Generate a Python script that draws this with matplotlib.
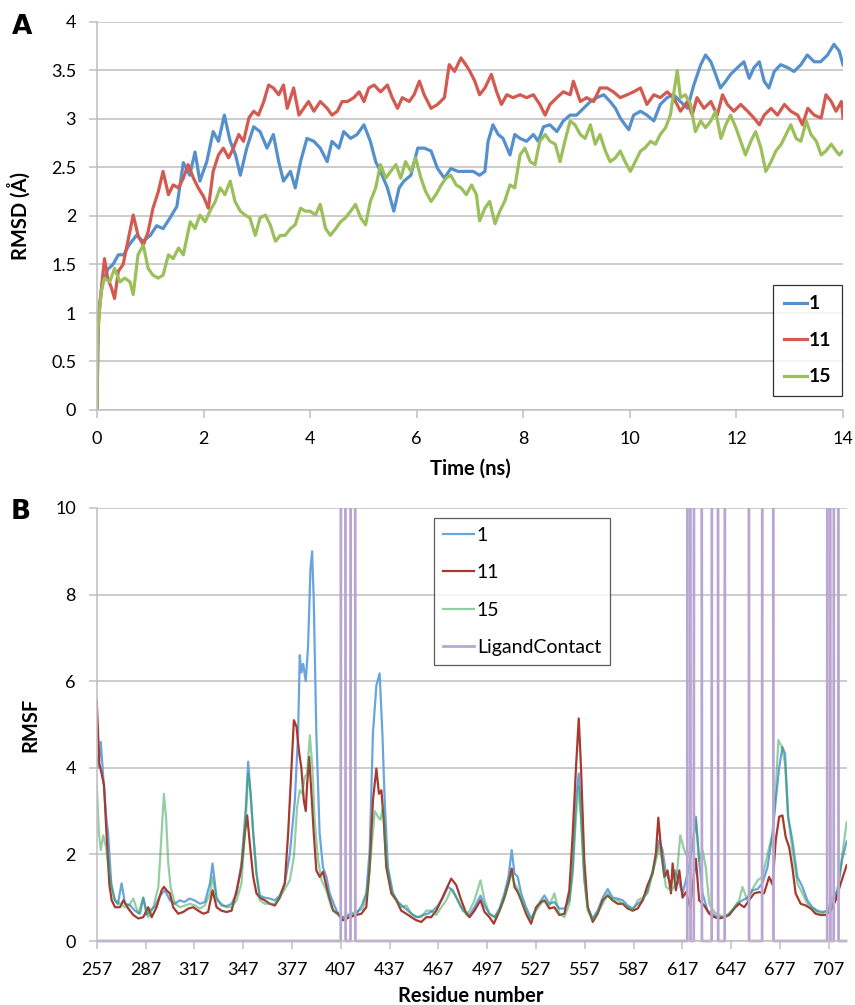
import numpy as np
import matplotlib
matplotlib.use("Agg")
import matplotlib.pyplot as plt
from matplotlib.transforms import Bbox, TransformedBbox

plt.rcParams['font.family'] = ['Lato', 'DejaVu Sans']

# ---------------- panel A : RMSD vs time (ns, Angstrom) ----------------
rmsd_1 = [(0, 0), (0.02, 0.95), (0.1, 1.3), (0.2, 1.45), (0.3, 1.5), (0.4, 1.6), (0.5, 1.6),
          (0.6, 1.7), (0.74, 1.8), (0.86, 1.74), (1.0, 1.8), (1.12, 1.9), (1.24, 1.87), (1.37, 1.98),
          (1.5, 2.1), (1.62, 2.55), (1.74, 2.42), (1.84, 2.66), (1.93, 2.36), (2.06, 2.56), (2.18, 2.87),
          (2.28, 2.77), (2.39, 3.04), (2.5, 2.77), (2.6, 2.63), (2.69, 2.42), (2.81, 2.7), (2.94, 2.92),
          (3.06, 2.87), (3.19, 2.7), (3.31, 2.84), (3.41, 2.56), (3.5, 2.36), (3.63, 2.46), (3.72, 2.29),
          (3.82, 2.56), (3.94, 2.8), (4.07, 2.77), (4.19, 2.7), (4.32, 2.56), (4.41, 2.77), (4.54, 2.7),
          (4.63, 2.87), (4.76, 2.8), (4.88, 2.84), (5.01, 2.94), (5.13, 2.77), (5.23, 2.56), (5.32, 2.46),
          (5.45, 2.29), (5.57, 2.05), (5.67, 2.29), (5.76, 2.36), (5.89, 2.42), (6.02, 2.7), (6.14, 2.7),
          (6.27, 2.67), (6.39, 2.49), (6.52, 2.39), (6.64, 2.49), (6.77, 2.46), (6.89, 2.46), (7.06, 2.46),
          (7.18, 2.42), (7.28, 2.46), (7.34, 2.77), (7.43, 2.94), (7.53, 2.84), (7.62, 2.8), (7.75, 2.63),
          (7.84, 2.84), (7.94, 2.8), (8.06, 2.77), (8.19, 2.84), (8.28, 2.77), (8.38, 2.92), (8.5, 2.94),
          (8.63, 2.87), (8.75, 2.98), (8.88, 3.04), (9.0, 3.04), (9.13, 3.11), (9.26, 3.18), (9.38, 3.22),
          (9.51, 3.25), (9.63, 3.18), (9.73, 3.11), (9.82, 3.01), (9.91, 2.94), (9.98, 2.89), (10.07, 3.04),
          (10.2, 3.08), (10.32, 3.04), (10.45, 2.98), (10.57, 3.15), (10.7, 3.22), (10.82, 3.25),
          (10.95, 3.18), (11.08, 3.11), (11.2, 3.35), (11.33, 3.56), (11.42, 3.66), (11.52, 3.59),
          (11.61, 3.46), (11.7, 3.32), (11.8, 3.39), (11.89, 3.46), (12.02, 3.53), (12.14, 3.59),
          (12.24, 3.42), (12.33, 3.53), (12.43, 3.59), (12.52, 3.39), (12.61, 3.32), (12.71, 3.49),
          (12.83, 3.56), (12.96, 3.53), (13.08, 3.49), (13.21, 3.56), (13.33, 3.66), (13.46, 3.59),
          (13.58, 3.59), (13.71, 3.66), (13.83, 3.77), (13.93, 3.7), (14.0, 3.56)]

rmsd_11 = [(0, 0), (0.02, 0.8), (0.05, 1.08), (0.14, 1.56), (0.2, 1.36), (0.27, 1.26), (0.33, 1.15),
           (0.4, 1.43), (0.49, 1.5), (0.58, 1.74), (0.68, 2.01), (0.77, 1.8), (0.87, 1.7), (0.96, 1.84),
           (1.05, 2.08), (1.15, 2.25), (1.24, 2.46), (1.34, 2.22), (1.43, 2.32), (1.53, 2.29), (1.62, 2.39),
           (1.71, 2.53), (1.81, 2.39), (1.9, 2.29), (2.0, 2.2), (2.09, 2.08), (2.18, 2.46), (2.28, 2.63),
           (2.37, 2.7), (2.47, 2.6), (2.56, 2.7), (2.66, 2.84), (2.75, 2.77), (2.85, 3.01), (2.94, 3.08),
           (3.03, 3.04), (3.13, 3.18), (3.22, 3.35), (3.31, 3.32), (3.41, 3.25), (3.5, 3.35), (3.57, 3.11),
           (3.69, 3.32), (3.79, 3.04), (3.88, 3.11), (3.97, 3.18), (4.07, 3.08), (4.19, 3.18), (4.32, 3.11),
           (4.41, 3.04), (4.51, 3.08), (4.6, 3.18), (4.7, 3.18), (4.82, 3.22), (4.92, 3.28), (5.01, 3.18),
           (5.1, 3.32), (5.2, 3.35), (5.32, 3.28), (5.45, 3.35), (5.54, 3.22), (5.64, 3.11), (5.73, 3.22),
           (5.86, 3.18), (5.95, 3.25), (6.05, 3.39), (6.14, 3.25), (6.27, 3.11), (6.39, 3.15), (6.52, 3.22),
           (6.61, 3.56), (6.71, 3.49), (6.83, 3.63), (6.92, 3.56), (6.99, 3.5), (7.09, 3.39), (7.18, 3.25),
           (7.28, 3.32), (7.4, 3.46), (7.5, 3.28), (7.59, 3.15), (7.69, 3.25), (7.81, 3.22), (7.94, 3.25),
           (8.06, 3.22), (8.19, 3.25), (8.31, 3.15), (8.41, 3.04), (8.5, 3.15), (8.63, 3.22), (8.75, 3.28),
           (8.88, 3.25), (8.94, 3.39), (9.07, 3.18), (9.19, 3.22), (9.32, 3.18), (9.44, 3.32), (9.57, 3.32),
           (9.69, 3.28), (9.82, 3.22), (9.95, 3.25), (10.07, 3.28), (10.2, 3.32), (10.32, 3.15),
           (10.45, 3.25), (10.57, 3.22), (10.7, 3.28), (10.82, 3.22), (10.95, 3.08), (11.08, 3.18),
           (11.17, 3.04), (11.26, 3.22), (11.39, 3.11), (11.52, 3.18), (11.64, 3.04), (11.74, 3.25),
           (11.83, 3.15), (11.95, 3.08), (12.08, 3.15), (12.21, 3.08), (12.33, 3.01), (12.43, 2.94),
           (12.52, 3.04), (12.65, 3.11), (12.77, 3.04), (12.9, 3.15), (13.02, 3.08), (13.15, 3.04),
           (13.24, 2.94), (13.34, 3.11), (13.46, 3.04), (13.59, 3.01), (13.68, 3.25), (13.78, 3.18),
           (13.87, 3.08), (13.97, 3.18), (14.0, 3.01)]

rmsd_15 = [(0, 0), (0.01, 0.8), (0.08, 1.22), (0.14, 1.36), (0.24, 1.32), (0.33, 1.46), (0.43, 1.32),
           (0.52, 1.36), (0.62, 1.32), (0.68, 1.19), (0.77, 1.6), (0.87, 1.7), (0.96, 1.46), (1.05, 1.39),
           (1.15, 1.36), (1.24, 1.39), (1.34, 1.6), (1.43, 1.56), (1.53, 1.67), (1.62, 1.6), (1.75, 1.94),
           (1.84, 1.87), (1.93, 2.01), (2.03, 1.94), (2.12, 2.05), (2.22, 2.15), (2.31, 2.29), (2.4, 2.22),
           (2.5, 2.36), (2.59, 2.15), (2.69, 2.05), (2.78, 2.01), (2.87, 1.98), (2.97, 1.8), (3.06, 1.98),
           (3.16, 2.01), (3.25, 1.91), (3.35, 1.74), (3.44, 1.8), (3.53, 1.8), (3.63, 1.87), (3.72, 1.91),
           (3.82, 2.08), (3.91, 2.05), (4.0, 2.05), (4.1, 2.01), (4.19, 2.12), (4.29, 1.87), (4.38, 1.8),
           (4.48, 1.87), (4.57, 1.94), (4.66, 1.98), (4.76, 2.05), (4.85, 2.12), (4.95, 1.98), (5.04, 1.91),
           (5.13, 2.15), (5.23, 2.29), (5.32, 2.53), (5.42, 2.39), (5.51, 2.46), (5.61, 2.53), (5.7, 2.39),
           (5.79, 2.56), (5.89, 2.46), (5.98, 2.6), (6.08, 2.39), (6.17, 2.25), (6.27, 2.15), (6.36, 2.22),
           (6.46, 2.32), (6.55, 2.39), (6.64, 2.42), (6.74, 2.32), (6.83, 2.29), (6.93, 2.22), (7.03, 2.32),
           (7.12, 2.22), (7.18, 1.95), (7.28, 2.08), (7.37, 2.15), (7.47, 1.92), (7.56, 2.05), (7.65, 2.15),
           (7.75, 2.32), (7.84, 2.29), (7.94, 2.63), (8.03, 2.7), (8.13, 2.56), (8.22, 2.53), (8.31, 2.77),
           (8.41, 2.84), (8.5, 2.77), (8.6, 2.74), (8.69, 2.56), (8.78, 2.77), (8.88, 2.98), (8.97, 2.94),
           (9.07, 2.84), (9.16, 2.8), (9.26, 2.94), (9.35, 2.74), (9.44, 2.84), (9.54, 2.67), (9.63, 2.56),
           (9.73, 2.6), (9.82, 2.67), (9.91, 2.56), (10.01, 2.46), (10.1, 2.56), (10.2, 2.67), (10.28, 2.7),
           (10.39, 2.77), (10.48, 2.74), (10.57, 2.84), (10.67, 2.91), (10.76, 3.04), (10.86, 3.39),
           (10.89, 3.5), (10.95, 3.22), (11.04, 3.25), (11.14, 3.15), (11.23, 2.87), (11.33, 2.98),
           (11.42, 2.91), (11.52, 2.98), (11.61, 3.08), (11.71, 2.8), (11.8, 2.94), (11.89, 3.04),
           (11.99, 2.91), (12.08, 2.77), (12.17, 2.63), (12.27, 2.77), (12.36, 2.87), (12.46, 2.7),
           (12.55, 2.46), (12.65, 2.56), (12.74, 2.67), (12.84, 2.74), (12.93, 2.84), (13.02, 2.94),
           (13.12, 2.8), (13.21, 2.77), (13.31, 2.98), (13.4, 2.84), (13.5, 2.77), (13.59, 2.63),
           (13.68, 2.67), (13.78, 2.74), (13.87, 2.67), (13.93, 2.63), (14.0, 2.67)]

# ---------------- panel B : RMSF per residue ----------------
rmsf_1 = [(257, 4.25), (258, 4.0), (259.5, 4.6), (261, 3.8), (263, 2.8), (264, 2.5), (266, 1.3), (268, 0.95),
          (270, 0.85), (272.3, 1.33), (274.4, 0.86), (277.5, 0.82), (280.5, 0.7), (283.6, 0.63), (285.6, 1.0),
          (287.7, 0.6), (289.7, 0.7), (292.8, 0.8), (295.9, 1.05), (299, 1.17), (302, 0.94), (305, 0.86),
          (308, 0.94), (311, 0.9), (314, 0.98), (317, 0.94), (320.4, 0.86), (323.5, 0.9), (326.6, 1.33),
          (328.2, 1.79), (330.7, 1.0), (333.7, 0.82), (336.8, 0.8), (339.9, 0.86), (343, 1.1), (346, 1.8),
          (348.7, 3.1), (350.1, 4.14), (351.7, 3.33), (353.2, 2.5), (355.2, 1.56), (357.3, 1.05), (360.3, 1.0),
          (363.4, 0.98), (366.5, 0.94), (369.5, 1.05), (372.6, 1.33), (375.7, 2.0), (378.8, 3.25), (380.8, 4.8),
          (381.8, 6.6), (382.8, 6.2), (383.9, 6.4), (385.5, 6.0), (386.9, 6.8), (388.4, 8.6), (389.4, 9.0),
          (390.4, 7.9), (392, 4.8), (394, 2.5), (396.1, 1.7), (398.2, 1.48), (400.2, 1.1), (403.3, 0.8),
          (406.4, 0.55), (409.4, 0.55), (412.5, 0.6), (416.6, 0.63), (419.7, 0.8), (422.7, 1.1), (424.8, 2.1),
          (426.8, 4.8), (428.9, 5.9), (430.9, 6.18), (432.6, 4.8), (434, 3.25), (436, 1.7), (439.1, 1.1),
          (442.2, 0.9), (445.3, 0.8), (448.3, 0.7), (451.4, 0.6), (454.5, 0.55), (457.5, 0.6), (460.6, 0.63),
          (463.7, 0.7), (466.7, 0.82), (469.8, 1.0), (472.9, 1.25), (475.9, 1.17), (479, 0.94), (482.1, 0.7),
          (486.2, 0.6), (489.2, 0.78), (492.9, 1.05), (495.4, 0.82), (498.4, 0.63), (501.5, 0.55),
          (504.6, 0.75), (507.6, 1.1), (510.1, 1.48), (512.1, 2.1), (513.8, 1.56), (515.8, 1.48), (517.9, 1.1),
          (520.9, 0.78), (524, 0.52), (527.1, 0.75), (530.1, 0.94), (532.2, 1.05), (535.3, 0.86), (538.3, 0.9),
          (541.4, 0.75), (544.5, 0.75), (547.5, 0.94), (549.6, 1.7), (551.6, 3.25), (553.3, 3.87),
          (554.7, 2.94), (556.7, 1.48), (558.8, 0.78), (561.9, 0.52), (564.9, 0.7), (568, 1.0), (571.1, 1.2),
          (574.1, 1.0), (577.2, 0.98), (580.3, 0.94), (583.4, 0.82), (586.4, 0.75), (589.5, 0.86),
          (592.6, 0.94), (595.6, 1.17), (598.7, 1.63), (600.7, 2.0), (602.8, 2.33), (604.8, 2.1), (606.9, 1.56),
          (610, 1.33), (612.4, 1.63), (614.5, 1.4), (617.1, 1.1), (620.2, 1.56), (623.3, 2.17), (625.3, 2.87),
          (627.3, 1.86), (629.4, 1.1), (632.5, 0.7), (635.5, 0.63), (638.6, 0.55), (641.7, 0.55), (644.7, 0.6),
          (647.8, 0.7), (650.9, 0.86), (653.9, 0.94), (657, 1.0), (660.1, 1.17), (663.2, 1.2), (666.2, 1.33),
          (669.3, 1.7), (672.4, 2.48), (674.4, 3.25), (676.5, 4.0), (678.5, 4.48), (680.1, 4.33), (682, 2.87),
          (684.6, 2.33), (687.7, 1.48), (690.8, 1.25), (693.8, 0.94), (696.9, 0.78), (700, 0.7), (703, 0.67),
          (706.1, 0.7), (709.2, 0.86), (712.3, 1.17), (715.3, 1.9), (718, 2.3)]

rmsf_11 = [(257, 5.56), (258.6, 4.1), (260, 3.87), (261.5, 3.6), (263, 2.5), (264.8, 1.3), (266.2, 0.94),
           (268.3, 0.78), (271.3, 0.78), (273.4, 0.94), (276.4, 0.75), (279.5, 0.6), (282.6, 0.52),
           (285.6, 0.55), (288.7, 0.78), (290.8, 0.55), (293.8, 0.78), (296.9, 1.17), (298.3, 1.25),
           (300, 1.17), (302, 1.1), (304, 0.78), (307.1, 0.63), (310.2, 0.67), (313.3, 0.75), (316.3, 0.78),
           (319.4, 0.7), (322.5, 0.63), (325.5, 0.67), (328.2, 1.17), (330.7, 0.78), (333.7, 0.7),
           (336.8, 0.67), (339.9, 0.7), (343, 1.17), (346, 1.7), (348.1, 2.5), (349.5, 2.9), (351.1, 2.25),
           (353.2, 1.48), (355.2, 1.1), (357.3, 1.0), (360.3, 0.94), (363.4, 0.86), (366.5, 0.82), (369.5, 1.0),
           (372.6, 1.33), (374.7, 2.5), (376.7, 4.0), (378.2, 5.1), (379.8, 4.95), (381.5, 4.33), (382.8, 4.0),
           (384.3, 3.25), (385.5, 3.0), (386.3, 3.6), (387.6, 4.25), (389, 3.4), (390.4, 2.5), (392, 1.63),
           (394.1, 1.48), (396.1, 1.6), (399.2, 1.1), (402.3, 0.7), (405.4, 0.63), (408.4, 0.48), (412.5, 0.55),
           (416.6, 0.6), (419.7, 0.63), (422.7, 0.78), (424.8, 1.7), (426.8, 3.25), (428.9, 3.98), (430.5, 3.4),
           (432, 3.48), (433.4, 2.8), (435, 1.7), (438.1, 1.1), (441.2, 0.94), (444.2, 0.7), (447.3, 0.63),
           (450.4, 0.55), (453.4, 0.48), (456.5, 0.44), (459.6, 0.55), (462.6, 0.55), (465.7, 0.7),
           (468.8, 0.94), (471.9, 1.2), (474.9, 1.44), (478, 1.29), (481.1, 0.94), (484.2, 0.63), (486.2, 0.55),
           (489.2, 0.7), (492.9, 0.94), (495.4, 0.67), (498.4, 0.55), (501.1, 0.4), (504.6, 0.7), (507.6, 1.0),
           (510.1, 1.33), (512.1, 1.67), (513.8, 1.25), (515.8, 1.13), (517.9, 0.94), (520.9, 0.63), (524, 0.4),
           (527.1, 0.78), (530.1, 0.9), (532.2, 0.94), (535.3, 0.75), (538.3, 0.78), (541.4, 0.6), (544.5, 0.63),
           (547.5, 1.17), (549.6, 2.48), (551.6, 4.0), (553.3, 5.14), (554.7, 4.0), (556.7, 1.86), (558.8, 0.78),
           (561.9, 0.44), (564.9, 0.63), (568, 0.94), (571.1, 1.05), (574.1, 0.94), (577.2, 0.86), (580.3, 0.86),
           (583.4, 0.75), (586.4, 0.7), (589.5, 0.75), (592.6, 0.94), (595.6, 1.29), (598.7, 1.56), (600.7, 2.0),
           (602.2, 2.85), (603.8, 2.17), (605.9, 1.48), (607.9, 1.63), (610, 1.1), (611, 1.79), (613, 1.17),
           (615.1, 1.63), (617.1, 1.0), (619.2, 1.13), (621.8, 0.78), (625.3, 1.9), (627.3, 0.94), (630.4, 0.82),
           (633.5, 0.63), (636.6, 0.55), (639.6, 0.52), (642.7, 0.55), (645.8, 0.6), (648.8, 0.75), (651.9, 0.86),
           (655, 0.78), (658, 0.94), (661.1, 1.1), (664.2, 1.13), (667.2, 1.1), (670.3, 1.48), (672.4, 1.3),
           (674.4, 2.33), (676.5, 2.87), (678.5, 2.9), (680.5, 2.4), (682.6, 2.17), (684.6, 1.7), (686.6, 1.1),
           (689.7, 0.86), (692.8, 0.82), (695.9, 0.75), (698.9, 0.63), (702, 0.6), (705.1, 0.6), (708.2, 0.7),
           (711.2, 0.94), (714.3, 1.33), (718, 1.75)]

rmsf_15 = [(257, 3.64), (258.4, 2.48), (259.5, 2.1), (261, 2.44), (262.7, 2.17), (264.2, 1.7), (266.2, 1.25),
           (268.3, 0.94), (271.3, 0.86), (274.4, 0.78), (277.5, 0.86), (279.5, 0.98), (282.6, 0.63),
           (285.6, 1.0), (288.7, 0.55), (291.8, 0.78), (294.9, 1.25), (296.9, 2.48), (298.3, 3.4),
           (299.6, 2.87), (301, 1.79), (302.4, 1.25), (305.1, 0.86), (308.2, 0.78), (311.2, 0.82), (314.3, 0.86),
           (317.4, 0.82), (320.4, 0.75), (323.5, 0.82), (326.6, 1.1), (328.2, 1.48), (330.7, 0.94), (333.7, 0.86),
           (336.8, 0.78), (339.9, 0.78), (343, 0.94), (346, 1.33), (348.7, 2.87), (350.1, 3.87), (351.7, 3.4),
           (353.2, 2.48), (355.2, 1.56), (357.3, 0.94), (360.3, 0.86), (363.4, 0.86), (366.5, 0.86), (369.5, 1.0),
           (372.6, 1.2), (375.7, 1.4), (378.2, 1.94), (380.2, 3.1), (381.8, 3.48), (383.3, 3.4), (384.9, 3.79),
           (386.3, 3.87), (388, 4.75), (389.6, 4.0), (391, 2.8), (393.1, 1.86), (395.2, 1.4), (398.2, 1.17),
           (401.3, 0.78), (404.3, 0.63), (408.4, 0.55), (412.5, 0.63), (416.6, 0.67), (420.7, 0.75),
           (423.8, 1.25), (425.8, 2.1), (427.9, 3.0), (429.9, 2.87), (431.4, 2.8), (433, 3.1), (435, 1.86),
           (438.1, 1.17), (441.2, 0.94), (444.2, 0.78), (447.3, 0.82), (450.4, 0.63), (453.4, 0.55),
           (456.5, 0.55), (459.6, 0.7), (462.6, 0.7), (465.7, 0.6), (468.8, 0.78), (471.9, 0.94), (474.9, 1.2),
           (478, 1.0), (481.1, 0.78), (484.2, 0.62), (486.2, 0.7), (489.2, 0.94), (492.9, 1.4), (495.4, 0.94),
           (498.4, 0.63), (501.5, 0.55), (504.6, 0.7), (507.6, 1.0), (510.1, 1.33), (512.1, 1.56), (513.8, 1.33),
           (515.8, 1.2), (517.9, 0.94), (520.9, 0.7), (524, 0.48), (527.1, 0.7), (530.1, 0.86), (532.2, 0.94),
           (535.3, 0.82), (538.3, 1.1), (541.4, 0.63), (544.5, 0.55), (547.5, 0.86), (549.6, 1.56), (551.6, 2.87),
           (553.3, 3.56), (554.7, 2.8), (556.7, 1.4), (558.8, 0.7), (561.9, 0.48), (564.9, 0.67), (568, 0.86),
           (571.1, 1.1), (574.1, 0.94), (577.2, 0.94), (580.3, 0.86), (583.4, 0.78), (586.4, 0.7), (589.5, 0.94),
           (592.6, 1.0), (595.6, 1.1), (598.7, 1.56), (600.7, 1.86), (602.8, 2.17), (604.8, 1.79), (606.9, 1.25),
           (610, 1.17), (612, 1.25), (614, 1.7), (615.7, 2.44), (618.1, 2.1), (620.2, 1.94), (623.3, 2.25),
           (625.3, 2.8), (627.3, 1.86), (629.4, 2.1), (631.4, 1.7), (633.5, 0.86), (636.6, 0.67), (639.6, 0.6),
           (642.7, 0.55), (645.8, 0.63), (648.8, 0.78), (651.9, 0.94), (653.9, 1.25), (657, 0.94), (660.1, 1.2),
           (663.2, 1.4), (666.2, 1.48), (669.3, 2.0), (672.4, 2.48), (674.4, 3.48), (676, 4.64), (678.1, 4.48),
           (680.1, 4.1), (682, 2.87), (684.6, 2.1), (687.7, 1.33), (690.8, 1.1), (693.8, 0.86), (696.9, 0.75),
           (700, 0.67), (703, 0.63), (706.1, 0.7), (709.2, 1.0), (712.3, 1.17), (715.3, 2.0), (718, 2.75)]

residues = np.arange(257, 719)
contact_residues = [408, 409, 414, 415, 621, 625, 626, 627, 628, 636, 637, 638,
                    644, 645, 646, 647, 648, 649, 650, 651, 652, 653, 654, 655, 656, 657,
                    667, 668, 669, 670, 671, 672, 707, 711, 712]
contact_value = 100

xticks_b = np.arange(257, 719, 30)

# ---------------- figure ----------------
fig = plt.figure(figsize=(8.55, 10.05), dpi=100)
grid_c = '#BFBFBF'

# panel A
axA = fig.add_axes([97 / 855, 1 - 410 / 1005, 746 / 855, 388 / 1005])
for data, c, lab in [(rmsd_1, '#5590CC', '1'), (rmsd_11, '#D25A50', '11'), (rmsd_15, '#9BBF5A', '15')]:
    t, v = np.array(data).T
    axA.plot(t, v, color=c, lw=2.3, label=lab)
axA.set_xlim(0, 14)
axA.set_ylim(0, 4)
axA.set_xticks(np.arange(0, 15, 2))
axA.set_yticks(np.arange(0, 4.01, 0.5))
axA.set_yticklabels(['0', '0.5', '1', '1.5', '2', '2.5', '3', '3.5', '4'])
axA.grid(axis='y', color=grid_c, lw=1.1)
axA.set_axisbelow(True)
axA.set_xlabel('Time (ns)', fontsize=14.5, fontweight='bold')
axA.xaxis.label.set_va('center')
axA.xaxis.set_label_coords(0.5, -0.152)
axA.set_ylabel('RMSD (Å)', fontsize=14.5, fontweight='bold')
axA.yaxis.set_label_coords(-0.0885, 0.5)
legA = axA.legend(loc='lower right', bbox_to_anchor=(0.999, 0.036), frameon=True, fancybox=False,
                  edgecolor='black', handlelength=1.2, handletextpad=0.1, labelspacing=1.0,
                  borderpad=0.55, borderaxespad=0, prop={'size': 14, 'weight': 'bold'})
legA.get_frame().set_linewidth(0.9)

# panel B
axB = fig.add_axes([96.7 / 855, 1 - 941 / 1005, 750 / 855, 433 / 1005])
for data, c, a, lab in [(rmsf_1, '#6AA4DE', 1.0, '1'), (rmsf_11, '#A63A30', 1.0, '11'),
                        (rmsf_15, '#2E9E48', 0.5, '15')]:
    r, v = np.array(data).T
    axB.plot(r, v, color=c, lw=1.6, alpha=a, label=lab)
lig = np.where(np.isin(residues, contact_residues), contact_value, 0)
ligline, = axB.plot(residues, lig, color='#B9A5D2', lw=2.0, label='LigandContact')
ligline.set_clip_box(TransformedBbox(Bbox([[0, -0.02], [1, 1]]), axB.transAxes))
axB.set_xlim(257, 718)
axB.set_ylim(0, 10)
axB.set_xticks(xticks_b)
axB.set_yticks(np.arange(0, 11, 2))
axB.grid(axis='y', color=grid_c, lw=1.1)
axB.set_axisbelow(True)
axB.set_xlabel('Residue number', fontsize=14.5, fontweight='bold')
axB.xaxis.label.set_va('center')
axB.xaxis.set_label_coords(0.499, -0.127)
axB.set_ylabel('RMSF', fontsize=14.5, fontweight='bold')
axB.yaxis.set_label_coords(-0.0756, 0.5)
legB = axB.legend(loc='upper left', bbox_to_anchor=(0.4497, 0.977), frameon=True, fancybox=False,
                  edgecolor='#333333', handlelength=1.6, handletextpad=0.15, labelspacing=1.05,
                  borderpad=0.45, borderaxespad=0, prop={'size': 14})
legB.get_frame().set_linewidth(0.9)

for ax in (axA, axB):
    for s in ('top', 'right'):
        ax.spines[s].set_visible(False)
    for s in ('left', 'bottom'):
        ax.spines[s].set_color(grid_c)
        ax.spines[s].set_linewidth(1.1)
    ax.tick_params(axis='both', colors=grid_c, length=6, width=1.1, labelsize=13,
                   labelcolor='black', direction='out')
    ax.tick_params(axis='x', pad=9)
    ax.tick_params(axis='y', pad=9)

fig.text(22 / 855, 1 - 27 / 1005, 'A', fontsize=19, fontweight='heavy', ha='center', va='center',
         family='DejaVu Sans')
fig.text(21 / 855, 1 - 512 / 1005, 'B', fontsize=19, fontweight='heavy', ha='center', va='center',
         family='DejaVu Sans')

fig.savefig('out.png', dpi=100)
